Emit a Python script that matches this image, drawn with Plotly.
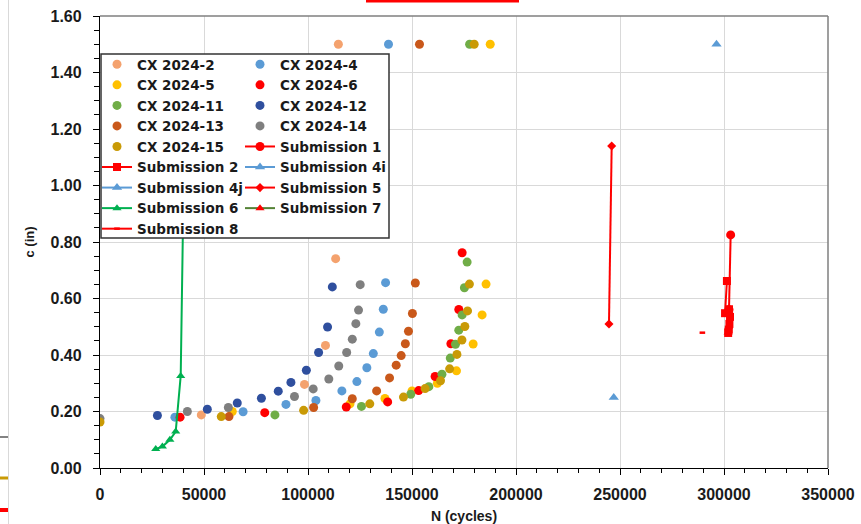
import plotly.graph_objects as go

# ---------------- data ----------------
cx2_n = [48700, 98300, 108400, 113300, 114600]
cx2_c = [0.188, 0.296, 0.434, 0.741, 1.50]

cx4_n = [36000, 68800, 89400, 103800, 116300, 123500, 128300, 131400, 134300, 136200, 137300, 138700]
cx4_c = [0.180, 0.199, 0.225, 0.239, 0.273, 0.306, 0.355, 0.405, 0.481, 0.562, 0.656, 1.50]

cx5_n = [63600, 120200, 137000, 150000, 162200, 171400, 179400, 183700, 185600, 187600]
cx5_c = [0.200, 0.227, 0.246, 0.273, 0.300, 0.344, 0.439, 0.542, 0.651, 1.50]

cx6_n = [38500, 79200, 118400, 138300, 153200, 161100, 168700, 172500, 174100]
cx6_c = [0.180, 0.196, 0.216, 0.234, 0.274, 0.324, 0.440, 0.561, 0.762]

cx11_n = [84100, 125700, 149400, 158100, 164400, 168400, 170900, 172500, 174100, 175200, 176500, 177700]
cx11_c = [0.188, 0.218, 0.261, 0.288, 0.332, 0.389, 0.438, 0.488, 0.542, 0.638, 0.729, 1.50]

cx12_n = [27600, 51600, 66000, 77600, 85700, 91800, 99200, 105100, 109400, 111700]
cx12_c = [0.186, 0.208, 0.230, 0.247, 0.272, 0.303, 0.346, 0.409, 0.499, 0.641]

cx13_n = [62000, 102700, 121300, 133000, 139200, 142400, 144800, 146800, 148300, 150200, 151600, 153600]
cx13_c = [0.182, 0.214, 0.245, 0.273, 0.319, 0.364, 0.398, 0.440, 0.484, 0.547, 0.655, 1.50]

cx14_n = [0, 42000, 61700, 93500, 102500, 110000, 114800, 118600, 121300, 123000, 124300, 125100]
cx14_c = [0.175, 0.200, 0.214, 0.253, 0.280, 0.315, 0.361, 0.409, 0.456, 0.511, 0.559, 0.649]

cx15_n = [0, 58300, 97900, 129700, 145900, 156300, 163700, 168100, 171600, 174000, 175400, 176700, 177600, 179900]
cx15_c = [0.163, 0.182, 0.204, 0.227, 0.251, 0.281, 0.309, 0.351, 0.402, 0.453, 0.501, 0.556, 0.651, 1.50]

sub1_n = [303200, 302400]
sub1_c = [0.825, 0.560]

sub2_n = [301400, 300500, 302400, 302900, 302600, 302300, 302000]
sub2_c = [0.662, 0.548, 0.562, 0.535, 0.510, 0.490, 0.478]

sub4i_n = [296400]
sub4i_c = [1.50]

sub4j_n = [247000]
sub4j_c = [0.250]

sub5_n = [246000, 244700]
sub5_c = [1.140, 0.510]

sub6_n = [26800, 30000, 33600, 36400, 38800, 40800]
sub6_c = [0.067, 0.076, 0.100, 0.129, 0.326, 1.30]

sub7_n = [302200, 302000]
sub7_c = [0.500, 0.480]

sub8_n = [289600]
sub8_c = [0.479]

# ---------------- figure ----------------
W, H = 861, 524
ML, MR, MT, MB = 100, 33, 16, 56
PW, PH = W - ML - MR, H - MT - MB


def px(xp):
    return (xp - ML) / PW


def py(yp):
    return (H - MB - yp) / PH


FONT = "Liberation Sans, Arial, sans-serif"
LFONT = "DejaVu Sans, Liberation Sans, sans-serif"
fig = go.Figure()


def cx(name, n, c, color, leg):
    fig.add_trace(go.Scatter(
        x=n, y=c, name=name, mode="markers", legend=leg,
        marker=dict(color=color, size=9, line=dict(width=0)),
    ))


cx("CX 2024-2", cx2_n, cx2_c, "#F4A26E", "legend")
cx("CX 2024-4", cx4_n, cx4_c, "#5B9BD5", "legend2")
cx("CX 2024-5", cx5_n, cx5_c, "#FFC000", "legend")
cx("CX 2024-6", cx6_n, cx6_c, "#FF0000", "legend2")
cx("CX 2024-11", cx11_n, cx11_c, "#70AD47", "legend")
cx("CX 2024-12", cx12_n, cx12_c, "#2F4F9E", "legend2")
cx("CX 2024-13", cx13_n, cx13_c, "#C9581A", "legend")
cx("CX 2024-14", cx14_n, cx14_c, "#7F7F7F", "legend2")
cx("CX 2024-15", cx15_n, cx15_c, "#C99A06", "legend")


def sub(name, n, c, lcolor, mcolor, symbol, size, leg, lw=2):
    fig.add_trace(go.Scatter(
        x=n, y=c, name=name, mode="lines+markers", legend=leg,
        line=dict(color=lcolor, width=lw),
        marker=dict(color=mcolor, symbol=symbol, size=size, line=dict(width=0, color=mcolor)),
    ))


sub("Submission 7", sub7_n, sub7_c, "#548235", "#FF0000", "triangle-up", 8, "legend2")
sub("Submission 1", sub1_n, sub1_c, "#FF0000", "#FF0000", "circle", 9, "legend2")
sub("Submission 2", sub2_n, sub2_c, "#FF0000", "#FF0000", "square", 8, "legend")
sub("Submission 4i", sub4i_n, sub4i_c, "#5B9BD5", "#5B9BD5", "triangle-up", 9, "legend2")
sub("Submission 4j", sub4j_n, sub4j_c, "#5B9BD5", "#5B9BD5", "triangle-up", 9, "legend")
sub("Submission 5", sub5_n, sub5_c, "#FF0000", "#FF0000", "diamond", 7, "legend2")
sub("Submission 6", sub6_n, sub6_c, "#00B050", "#00B050", "triangle-up", 8, "legend")
fig.add_trace(go.Scatter(
    x=sub8_n, y=sub8_c, name="Submission 8", mode="lines+markers", legend="legend",
    line=dict(color="#FF0000", width=2),
    marker=dict(color="#FF0000", symbol="line-ew", size=4, line=dict(width=2.5, color="#FF0000")),
))

# legend entry order (two columns as in the reference)
order1 = ["CX 2024-2", "CX 2024-5", "CX 2024-11", "CX 2024-13", "CX 2024-15",
          "Submission 2", "Submission 4j", "Submission 6", "Submission 8"]
order2 = ["CX 2024-4", "CX 2024-6", "CX 2024-12", "CX 2024-14",
          "Submission 1", "Submission 4i", "Submission 5", "Submission 7"]
for tr in fig.data:
    if tr.name in order1:
        tr.legendrank = 100 + order1.index(tr.name)
    else:
        tr.legendrank = 100 + order2.index(tr.name)

legfont = dict(family=LFONT, size=13.5, color="#1a1a1a", weight="bold")
tickfont = dict(family=FONT, size=16, color="#1a1a1a", weight="bold")

shapes = [
    # legend box
    dict(type="rect", xref="paper", yref="paper", x0=px(101), x1=px(389), y0=py(238), y1=py(54),
         fillcolor="white", line=dict(color="#333333", width=1.5), layer="above"),
    # top and right plot frame
    dict(type="line", xref="paper", yref="paper", x0=0, x1=1, y0=1, y1=1,
         line=dict(color="#7f7f7f", width=1.5)),
    dict(type="line", xref="paper", yref="paper", x0=1, x1=1, y0=0, y1=1,
         line=dict(color="#7f7f7f", width=1.5)),
    # screenshot artefacts
    dict(type="rect", xref="paper", yref="paper", x0=px(366), x1=px(519), y0=py(2.5), y1=py(0),
         fillcolor="#FF0000", line=dict(width=0)),
    dict(type="line", xref="paper", yref="paper", x0=px(8.5), x1=px(8.5), y0=py(524), y1=py(0),
         line=dict(color="#d9d9d9", width=1)),
    dict(type="line", xref="paper", yref="paper", x0=px(0), x1=px(8), y0=py(437), y1=py(437),
         line=dict(color="#595959", width=1.5)),
    dict(type="line", xref="paper", yref="paper", x0=px(0), x1=px(8), y0=py(478), y1=py(478),
         line=dict(color="#C99A06", width=3)),
    dict(type="line", xref="paper", yref="paper", x0=px(0), x1=px(8), y0=py(510), y1=py(510),
         line=dict(color="#FF0000", width=4)),
]

fig.update_layout(
    width=W, height=H,
    margin=dict(l=ML, r=MR, t=MT, b=MB, autoexpand=False),
    paper_bgcolor="white", plot_bgcolor="white",
    font=dict(family=FONT, color="#1a1a1a"),
    showlegend=True,
    legend=dict(x=px(97), y=py(49), xanchor="left", yanchor="top", bgcolor="rgba(0,0,0,0)",
                borderwidth=0, font=legfont, tracegroupgap=0, itemwidth=30),
    legend2=dict(x=px(240), y=py(49), xanchor="left", yanchor="top", bgcolor="rgba(0,0,0,0)",
                 borderwidth=0, font=legfont, tracegroupgap=0, itemwidth=30),
    shapes=shapes,
    xaxis=dict(
        range=[0, 350000], dtick=50000, tick0=0, tickformat="d", automargin=False,
        showgrid=True, gridcolor="#d9d9d9", gridwidth=1.3, zeroline=False,
        showline=True, linecolor="#000000", linewidth=1.3,
        ticks="outside", ticklen=6, tickcolor="#000000", tickwidth=1.2,
        minor=dict(dtick=10000, ticks="outside", ticklen=4, tickcolor="#000000", tickwidth=1, showgrid=False),
        tickfont=tickfont, ticklabelstandoff=6,
        title=dict(text="N (cycles)", font=dict(family=FONT, size=14, color="#1a1a1a", weight="bold"), standoff=8),
    ),
    yaxis=dict(
        range=[0, 1.6], dtick=0.2, tick0=0, tickformat=".2f", automargin=False,
        showgrid=True, gridcolor="#d9d9d9", gridwidth=1.3, zeroline=False,
        showline=True, linecolor="#000000", linewidth=1.3,
        ticks="outside", ticklen=6, tickcolor="#000000", tickwidth=1.2,
        minor=dict(dtick=0.05, ticks="outside", ticklen=5, tickcolor="#000000", tickwidth=1, showgrid=False),
        tickfont=tickfont, ticklabelstandoff=8,
        title=dict(text="c (in)", font=dict(family=FONT, size=13, color="#1a1a1a", weight="bold"), standoff=12),
    ),
)

fig.write_html("out.html", config={"displayModeBar": False},
               post_script="document.body.style.margin='0';document.body.style.overflow='hidden';")
